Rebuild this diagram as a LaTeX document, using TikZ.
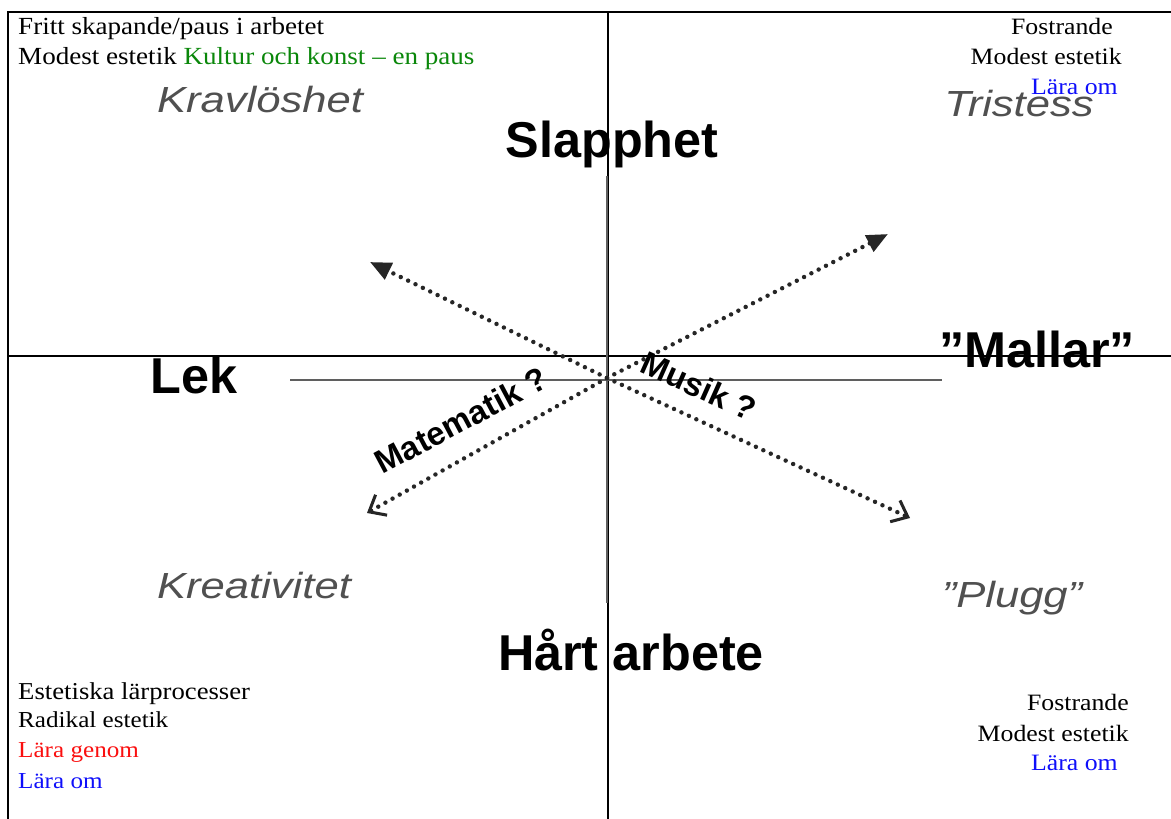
\documentclass[tikz,border=0pt]{standalone}
\usepackage{fontspec}
\setmainfont{Liberation Serif}[FakeStretch=1.1]
\setsansfont{Liberation Sans}
\newfontfamily\moodfont{Liberation Sans}[FakeStretch=1.2]
\usepackage{tikz}
\usetikzlibrary{arrows.meta,positioning}
\definecolor{kulturgreen}{RGB}{10,135,10}
\definecolor{omblue}{RGB}{15,15,250}
\definecolor{genomred}{RGB}{250,15,15}
\definecolor{moodgray}{RGB}{80,80,80}
\definecolor{axisgray}{RGB}{95,95,95}

\begin{document}
\begin{tikzpicture}[
        x=0.03cm, y=-0.03cm,
        cell/.style={inner sep=0pt, font=\fontsize{20}{24}\selectfont},
        smallcell/.style={inner sep=0pt, font=\fontsize{19.5}{23}\selectfont},
        pole/.style={inner sep=0pt, font=\sffamily\bfseries\fontsize{43}{48}\selectfont},
        mood/.style={inner sep=0pt, text=moodgray, font=\moodfont\itshape\fontsize{31}{36}\selectfont},
        subj/.style={inner sep=0pt, font=\sffamily\bfseries\fontsize{28}{32}\selectfont},
        frame/.style={line width=2pt},
        axis/.style={line width=2.4pt, draw=axisgray},
        trend/.style={line width=3.8pt, dash pattern=on 0pt off 7pt, line cap=round, draw=black!85}
    ]
        \useasboundingbox (0,0) rectangle (1171,819);
        % table frame
        \draw[frame] (8,819) -- (8,12) -- (1171,12);
        \draw[frame] (608,12) -- (608,819);
        \draw[frame] (8,356) -- (1171,356);

        % cell texts
        \node[cell, font=\fontsize{21}{25}\selectfont, anchor=base west] (tl1) at (18,35) {Fritt skapande/paus i arbetet};
        \node[cell, font=\fontsize{21}{25}\selectfont, anchor=base west] (tl2) at (18,65) {Modest estetik \textcolor{kulturgreen}{Kultur och konst -- en paus}};
        \node[cell, anchor=base east] (tr1) at (1113,35) {Fostrande};
        \node[cell, anchor=base east] (tr2) at (1122,65) {Modest estetik};
        \node[cell, anchor=base east, text=omblue] (tr3) at (1118,95) {Lära om};
        \node[cell, font=\fontsize{20.7}{25}\selectfont, anchor=base west] (bl1) at (18,699) {Estetiska lärprocesser};
        \node[smallcell, anchor=base west] (bl2) at (18,727) {Radikal estetik};
        \node[smallcell, anchor=base west, text=genomred] (bl3) at (18,757) {Lära genom};
        \node[smallcell, anchor=base west, text=omblue] (bl4) at (18,788) {Lära om};
        \node[cell, anchor=base east] (br1) at (1129,710) {Fostrande};
        \node[cell, anchor=base east] (br2) at (1129,741) {Modest estetik};
        \node[cell, anchor=base east, text=omblue] (br3) at (1118,770) {Lära om};

        % axes
        \coordinate (o) at (607,378);
        \coordinate (ytop) at (607,176);
        \coordinate (ybot) at (607,603);
        \coordinate (xleft) at (290,380);
        \coordinate (xright) at (942,380);
        \draw[axis] (ytop) -- (ybot);
        \draw[axis] (xleft) -- (xright);

        % dotted arrows
        \coordinate (nw) at (370,262);
        \coordinate (ne) at (888,234);
        \coordinate (sw) at (367,513);
        \coordinate (se) at (910,518);
        \draw[trend, -{Triangle[length=18pt,width=15pt]}] (o) -- (nw);
        \draw[trend, -{Triangle[length=18pt,width=15pt]}] (o) -- (ne);
        \draw[trend, -{Straight Barb[length=12pt,width=20pt,line width=2.6pt]}] (o) -- (sw);
        \draw[trend, -{Straight Barb[length=12pt,width=20pt,line width=2.6pt]}] (o) -- (se);

        \node[subj, rotate=28] (mat) at (461,420) {Matematik ?};
        \node[subj, rotate=-24] (mus) at (699,386) {Musik ?};

        % poles
        \node[pole, anchor=base] (slapp) at (612,158) {Slapphet};
        \node[pole, anchor=base] (lek) at (194,393) {Lek};
        \node[pole, anchor=base] (mallar) at (1037,367) {”Mallar”};
        \node[pole, anchor=base] (hart) at (631,670) {Hårt arbete};

        % moods
        \node[mood, anchor=base] (krav) at (260,113) {Kravlöshet};
        \node[mood, anchor=base] (trist) at (1019,117) {Tristess};
        \node[mood, anchor=base] (kreat) at (254,598) {Kreativitet};
        \node[mood, anchor=base] (plugg) at (1012,607) {”Plugg”};
    \end{tikzpicture}
\end{document}
